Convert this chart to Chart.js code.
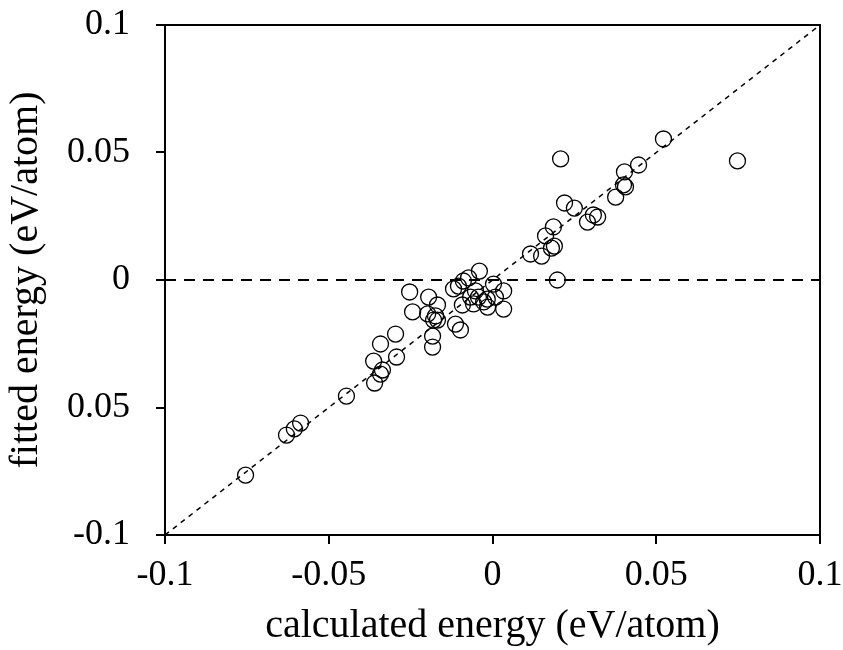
<!DOCTYPE html>
<html>
<head>
<meta charset="utf-8">
<script src="https://cdn.jsdelivr.net/npm/chart.js@4"></script>
<style>
html,body{margin:0;padding:0;background:#fff;}
#wrap{width:843px;height:650px;}
</style>
</head>
<body>
<div id="wrap"><canvas id="c" width="843" height="650"></canvas></div>
<script>
// calculated energy (eV/atom)
const calcX = [0.0522,0.0208,0.0748,0.0446,0.0403,0.0400,0.0406,0.0376,0.0220,0.0250,
  0.0308,0.0321,0.0290,0.0186,0.0162,0.0189,0.0180,0.0116,0.0150,0.0198,
  -0.0040,-0.0073,-0.0089,-0.0104,-0.0119,0.0003,0.0034,-0.0052,-0.0043,-0.0067,
  -0.0092,-0.0058,-0.0027,-0.0015,0.0009,0.0034,-0.0113,-0.0098,-0.0016,
  -0.0253,-0.0195,-0.0168,-0.0244,-0.0198,-0.0174,-0.0168,-0.0180,-0.0183,-0.0183,
  -0.0296,-0.0342,-0.0293,-0.0363,-0.0336,-0.0342,-0.0360,-0.0446,-0.0586,-0.0605,-0.0629,-0.0754];
// fitted energy (eV/atom)
const fitY = [0.0553,0.0475,0.0467,0.0451,0.0424,0.0373,0.0365,0.0325,0.0302,0.0282,
  0.0255,0.0247,0.0227,0.0208,0.0173,0.0133,0.0125,0.0102,0.0094,0.0000,
  0.0035,0.0008,-0.0004,-0.0024,-0.0035,-0.0016,-0.0043,-0.0043,-0.0067,-0.0067,
  -0.0098,-0.0094,-0.0086,-0.0106,-0.0067,-0.0114,-0.0173,-0.0196,-0.0075,
  -0.0047,-0.0067,-0.0098,-0.0125,-0.0133,-0.0141,-0.0157,-0.0157,-0.0220,-0.0263,
  -0.0212,-0.0251,-0.0302,-0.0318,-0.0353,-0.0369,-0.0404,-0.0455,-0.0561,-0.0584,-0.0608,-0.0765];
const tickValues = [-0.1,-0.05,0,0.05,0.1];
const xTickLabels = ['-0.1','-0.05','0','0.05','0.1'];
const yTickLabels = ['-0.1','0.05','0','0.05','0.1'];
const diagLine = [{x:-0.1,y:-0.1},{x:0.1,y:0.1}];
const zeroLine = [{x:-0.1,y:0},{x:0.1,y:0}];

const points = calcX.map((x,i)=>({x:x,y:fitY[i]}));
const FONT = "'Liberation Serif','Times New Roman',serif";

const frame = {
  id:'frame',
  afterDatasetsDraw(chart){
    const a = chart.chartArea, ctx = chart.ctx;
    ctx.save();
    ctx.strokeStyle='#000'; ctx.lineWidth=2;
    ctx.strokeRect(a.left,a.top,a.right-a.left,a.bottom-a.top);
    ctx.restore();
  }
};

function labelFor(arr){
  return function(v){
    const i = tickValues.findIndex(t=>Math.abs(t-v)<1e-9);
    return i>=0 ? arr[i] : '';
  };
}
function zeroPad(s){ s.paddingLeft = 0; s.paddingRight = 0; s.paddingTop = 0; s.paddingBottom = 0; }

new Chart(document.getElementById('c'),{
  type:'scatter',
  data:{datasets:[
    {data:points, pointStyle:'circle', pointRadius:8, pointHoverRadius:8,
     borderColor:'#000', borderWidth:1.3, backgroundColor:'rgba(0,0,0,0)', order:1},
    {type:'line', data:diagLine, borderColor:'#000', borderWidth:1.5, borderDash:[5,5],
     pointRadius:0, fill:false, order:2},
    {type:'line', data:zeroLine, borderColor:'#000', borderWidth:2.2, borderDash:[11,8],
     pointRadius:0, fill:false, order:3}
  ]},
  options:{
    responsive:false, animation:false, devicePixelRatio:1,
    layout:{padding:{top:25,right:23,left:0,bottom:0}},
    plugins:{legend:{display:false},tooltip:{enabled:false}},
    scales:{
      x:{type:'linear', min:-0.1, max:0.1,
        afterBuildTicks(s){ s.ticks = tickValues.map(v=>({value:v})); },
        afterFit(s){ s.height = 115; zeroPad(s); },
        grid:{display:true, drawOnChartArea:false, drawTicks:true, tickLength:9, color:'#000', lineWidth:2},
        border:{display:true, color:'#000', width:2},
        ticks:{callback:labelFor(xTickLabels), color:'#000', font:{family:FONT,size:36}, padding:10, maxRotation:0, autoSkip:false},
        title:{display:true, text:'calculated energy (eV/atom)', color:'#000', font:{family:FONT,size:40}, padding:{top:2,bottom:0}}
      },
      y:{type:'linear', min:-0.1, max:0.1,
        afterBuildTicks(s){ s.ticks = tickValues.map(v=>({value:v})); },
        afterFit(s){ s.width = 165; zeroPad(s); },
        grid:{display:true, drawOnChartArea:false, drawTicks:true, tickLength:9, color:'#000', lineWidth:2},
        border:{display:true, color:'#000', width:2},
        ticks:{callback:labelFor(yTickLabels), color:'#000', font:{family:FONT,size:36}, padding:26, autoSkip:false},
        title:{display:true, text:'fitted energy (eV/atom)', color:'#000', font:{family:FONT,size:40}, padding:{top:2,bottom:0}}
      }
    }
  },
  plugins:[frame]
});
</script>
</body>
</html>
